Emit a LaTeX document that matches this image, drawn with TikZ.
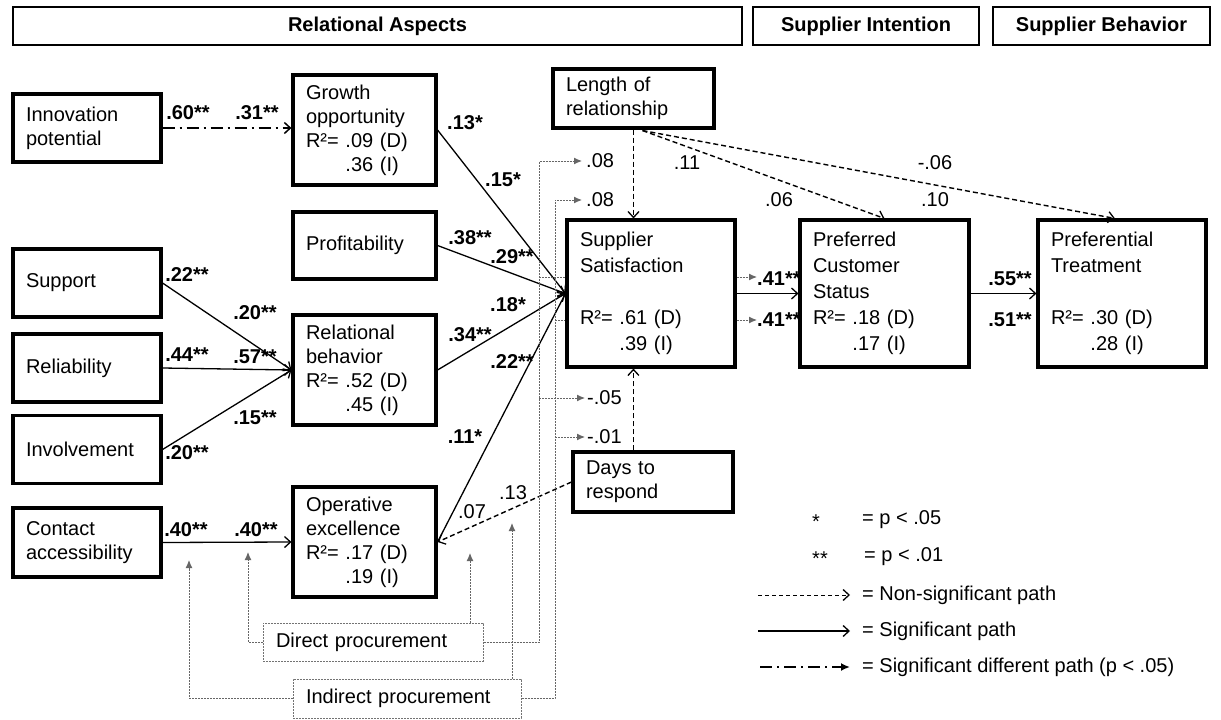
\documentclass[tikz,border=0pt]{standalone}
\usepackage{fontspec}
\setmainfont{Liberation Sans}
\usetikzlibrary{arrows.meta,calc}
\begin{document}
\begin{tikzpicture}[x=1pt,y=-1pt,
  every node/.style={font=\fontsize{20}{24}\selectfont},
  box/.style={draw, line width=3.1pt, align=left, inner xsep=13pt, inner ysep=0pt},
  rbox/.style={box, font=\fontsize{20}{26}\selectfont},
  hdr/.style={draw, line width=2.6pt, font=\fontsize{20}{24}\selectfont\bfseries, inner sep=0pt},
  probox/.style={draw=black!55, line width=1pt, dash pattern=on 2pt off 1pt, inner xsep=13pt, inner ysep=0pt, align=left},
  lab/.style={font=\fontsize{20}{24}\selectfont\bfseries, inner sep=0pt},
  nlab/.style={inner sep=0pt},
  sig/.style={line width=1.3pt, -{Straight Barb[length=6pt,width=11pt,line width=1.3pt]}},
  nonsig/.style={line width=1.4pt, dash pattern=on 5pt off 3pt, -{Straight Barb[length=6pt,width=11pt,line width=1.3pt]}},
  mod/.style={draw=black!60, line width=1pt, dash pattern=on 2pt off 1pt},
  modarr/.style={mod, -{Latex[length=8pt,width=7pt]}},
  diff/.style={line width=1.9pt, dash pattern=on 12pt off 5pt on 2pt off 5pt, -{Straight Barb[length=6pt,width=11pt,line width=1.5pt]}},
  difflg/.style={line width=2.2pt, dash pattern=on 12pt off 5pt on 2pt off 5pt, -{Latex[length=9pt,width=8pt]}},
]
\useasboundingbox (0,0) rectangle (1221,720);

% headers
\node[hdr, minimum width=729pt, minimum height=38pt] (relhdr) at (377.5,26) {Relational Aspects};
\node[hdr, minimum width=226pt, minimum height=38pt] (inthdr) at (866,26) {Supplier Intention};
\node[hdr, minimum width=217pt, minimum height=38pt] (behhdr) at (1101.5,26) {Supplier Behavior};

% left column
\node[box, text width=122pt, minimum height=68pt] (innov) at (87,128) {Innovation\\potential};
\node[box, text width=122pt, minimum height=68pt] (support) at (87,283) {Support};
\node[box, text width=122pt, minimum height=68pt] (reliab) at (87,368) {Reliability};
\node[box, text width=122pt, minimum height=68pt] (involv) at (87,449.5) {Involvement};
\node[box, text width=122pt, minimum height=69pt] (contact) at (87,542.5) {Contact\\accessibility};

% middle column
\node[box, text width=117pt, minimum height=110pt] (growth) at (364.5,130) {Growth\\opportunity\\R²= .09 (D)\\\hphantom{R²= }.36 (I)};
\node[box, text width=117pt, minimum height=67pt] (profit) at (364.5,245.5) {Profitability};
\node[box, text width=117pt, minimum height=110pt] (relbeh) at (364.5,370) {Relational\\behavior\\R²= .52 (D)\\\hphantom{R²= }.45 (I)};
\node[box, text width=117pt, minimum height=110pt] (oper) at (364.5,542) {Operative\\excellence\\R²= .17 (D)\\\hphantom{R²= }.19 (I)};

% right part
\node[box, text width=135pt, minimum height=59pt] (length) at (633.5,98.5) {Length of\\relationship};
\node[rbox, text width=142pt, minimum height=147pt] (ss) at (651,293.5) {Supplier\\Satisfaction\\\mbox{}\\R²= .61 (D)\\\hphantom{R²= }.39 (I)};
\node[rbox, text width=143pt, minimum height=147pt] (pcs) at (884.5,293.5) {Preferred\\Customer\\Status\\R²= .18 (D)\\\hphantom{R²= }.17 (I)};
\node[rbox, text width=142pt, minimum height=147pt] (pt) at (1122,293.5) {Preferential\\Treatment\\\mbox{}\\R²= .30 (D)\\\hphantom{R²= }.28 (I)};
\node[box, text width=134pt, minimum height=60pt] (days) at (653,482) {Days to\\respond};

% procurement boxes
\node[probox, text width=194pt, minimum height=38pt] (direct) at (373,642) {Direct procurement};
\node[probox, text width=202pt, minimum height=39pt] (indirect) at (407,698.5) {Indirect procurement};

% significant paths
\draw[diff] (innov.east) -- (innov.east -| growth.west);
\draw[sig] (growth.east) -- (ss.west);
\draw[sig] (profit.east) -- (ss.west);
\draw[sig] (relbeh.east) -- (ss.west);
\draw[sig] (oper.east) -- (ss.west);
\draw[sig] (support.east) -- (relbeh.west);
\draw[sig] (reliab.east) -- (relbeh.west);
\draw[sig] (involv.east) -- (relbeh.west);
\draw[sig] (contact.east) -- (oper.west);
\draw[sig] (ss.east) -- (pcs.west);
\draw[sig] (pcs.east) -- (pt.west);

% non-significant paths
\coordinate (lorg) at ($(length.south)+(9,1)$);
\coordinate (ptin) at ($(pt.north)+(-7,0)$);
\draw[nonsig] (length.south) -- (length.south |- ss.north);
\draw[nonsig] (lorg) -- (pcs.north);
\draw[nonsig] (lorg) -- (ptin);
\coordinate (dtop) at ($(days.north west)+(62,0)$);
\draw[nonsig] (dtop) -- (dtop |- ss.south);
\draw[nonsig] (days.west) -- (oper.east);

% moderation lines (direct procurement)
\coordinate (dvx) at (539,0);
\coordinate (ivx) at (555,0);
\coordinate (dc) at (539,161);
\coordinate (d08) at (582,161);
\coordinate (d41) at (757,277);
\coordinate (d05) at (585,398);
\coordinate (dupt) at (470,553);
\coordinate (dlt) at (248,552);
\draw[modarr] (direct.east) -| (dc) -- (d08);
\draw[mod] (dvx |- d41) -- (d41 -| ss.west);
\draw[modarr] (d41 -| ss.east) -- (d41);
\draw[modarr] (dvx |- d05) -- (d05);
\draw[modarr] (dupt |- direct.north) -- (dupt);
\draw[modarr] (direct.west) -| (dlt);

% moderation lines (indirect procurement)
\coordinate (ic) at (555,200);
\coordinate (i08) at (582,200);
\coordinate (i41) at (757,320);
\coordinate (i01) at (585,437);
\coordinate (iupt) at (512,523);
\coordinate (ilt) at (189,560);
\draw[modarr] (indirect.east) -| (ic) -- (i08);
\draw[mod] (ivx |- i41) -- (i41 -| ss.west);
\draw[modarr] (i41 -| ss.east) -- (i41);
\draw[modarr] (ivx |- i01) -- (i01);
\draw[modarr] (iupt |- indirect.north) -- (iupt);
\draw[modarr] (indirect.west) -| (ilt);

% path labels
\node[lab] (l60) at (188,113) {.60**};
\node[lab] (l31) at (257,113) {.31**};
\node[lab] (l13) at (465,123) {.13*};
\node[lab] (l15) at (503,180) {.15*};
\node[lab] (l38) at (470,238) {.38**};
\node[lab] (l29) at (512,257) {.29**};
\node[lab] (l18) at (508,305) {.18*};
\node[lab] (l34) at (470,335) {.34**};
\node[lab] (l22b) at (512,362) {.22**};
\node[lab] (l11) at (465,437) {.11*};
\node[lab] (l22) at (187,275) {.22**};
\node[lab] (l20) at (255,313) {.20**};
\node[lab] (l44) at (187,355) {.44**};
\node[lab] (l57) at (255,357) {.57**};
\node[lab] (l15b) at (255,418) {.15**};
\node[lab] (l20b) at (187,453) {.20**};
\node[lab] (l40a) at (186,530) {.40**};
\node[lab] (l40b) at (256,530) {.40**};
\node[lab, anchor=west] (l41a) at (757,279) {.41**};
\node[lab, anchor=west] (l41b) at (757,320) {.41**};
\node[lab] (l55) at (1010,279) {.55**};
\node[lab] (l51) at (1010,320) {.51**};

\node[nlab] (n13) at (513,493) {.13};
\node[nlab] (n07) at (472,512) {.07};
\node[nlab, anchor=west] (n08a) at (586,161) {.08};
\node[nlab, anchor=west] (n08b) at (586,200) {.08};
\node[nlab, anchor=west] (n05) at (587,398) {-.05};
\node[nlab, anchor=west] (n01) at (587,437) {-.01};
\node[nlab] (n11) at (687,163) {.11};
\node[nlab] (n06) at (779,200) {.06};
\node[nlab] (n06b) at (935,163) {-.06};
\node[nlab] (n10) at (935,200) {.10};

% legend
\node[nlab] (ls1) at (816,522) {*};
\node[nlab, anchor=west] (lt1) at (862,520) {= p < .05};
\node[nlab] (ls2) at (820,559) {**};
\node[nlab, anchor=west] (lt2) at (864,557) {= p < .01};
\node[nlab, anchor=west] (lt3) at (862,595) {= Non-significant path};
\node[nlab, anchor=west] (lt4) at (862,631) {= Significant path};
\node[nlab, anchor=west] (lt5) at (862,667) {= Significant different path (p < .05)};
\coordinate (lg1a) at (758,595);
\coordinate (lg2a) at (758,631);
\coordinate (lg3a) at (760,667);
\draw[nonsig, line width=1pt, dash pattern=on 4pt off 3pt] (lg1a) -- ($(lt3.west)+(-12,0)$);
\draw[sig] (lg2a) -- ($(lt4.west)+(-12,0)$);
\draw[difflg] (lg3a) -- ($(lt5.west)+(-12,0)$);
\end{tikzpicture}
\end{document}
